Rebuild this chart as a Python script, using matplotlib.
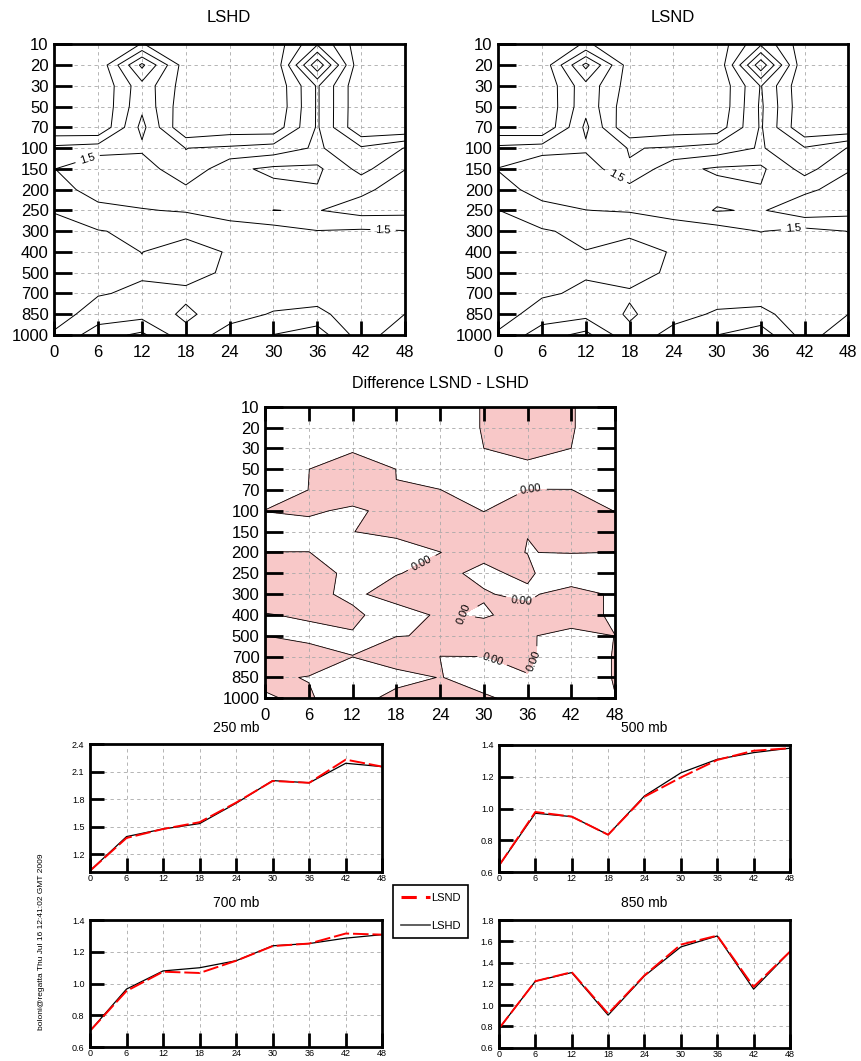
import numpy as np
import matplotlib
matplotlib.use('Agg')
import matplotlib.pyplot as plt
from matplotlib.lines import Line2D

plt.rcParams['font.family'] = ['Liberation Sans', 'DejaVu Sans']

W, H = 862, 1061

hours = [0, 6, 12, 18, 24, 30, 36, 42, 48]
pressure_labels = ['10', '20', '30', '50', '70', '100', '150', '200', '250',
                   '300', '400', '500', '700', '850', '1000']

# ---- single level curves ----
lshd_250 = [1.02, 1.393, 1.476, 1.535, 1.757, 2.004, 1.98, 2.193, 2.156]
lsnd_250 = [1.02, 1.378, 1.476, 1.55, 1.764, 2.0, 1.98, 2.233, 2.156]
lshd_500 = [0.642, 0.971, 0.95, 0.836, 1.08, 1.225, 1.31, 1.352, 1.38]
lsnd_500 = [0.642, 0.979, 0.95, 0.836, 1.075, 1.196, 1.306, 1.364, 1.38]
lshd_700 = [0.703, 0.966, 1.08, 1.1, 1.144, 1.238, 1.252, 1.286, 1.308]
lsnd_700 = [0.703, 0.954, 1.075, 1.067, 1.144, 1.236, 1.252, 1.315, 1.308]
lshd_850 = [0.78, 1.225, 1.306, 0.906, 1.275, 1.547, 1.65, 1.15, 1.503]
lsnd_850 = [0.78, 1.225, 1.31, 0.92, 1.28, 1.569, 1.653, 1.172, 1.503]

# ---- LSHD cross section, one row per pressure level ----
lshd_10 = [0.15, 0.10, 0.52, 0.20, 0.15, 0.167, 1.45, 0.167, 0.20]
lshd_20 = [0.05, 0.084, 2.12, 0.20, 0.10, 0.02, 2.90, 0.02, 0.10]
lshd_30 = [0.05, 0.022, 1.325, 0.242, 0.10, 0.05, 1.56, 0.05, 0.10]
lshd_50 = [0.05, 0.02, 1.40, 0.13, 0.10, 0.02, 1.56, 0.05, 0.05]
lshd_70 = [0.064, 0.02, 1.65, 0.01, 0.1875, 0.167, 1.56, 0.031, 0.0]
lshd_100 = [1.128, 1.25, 1.40, 0.995, 1.08, 1.208, 1.58, 1.073, 1.52]
lshd_150 = [1.49, 1.95, 1.80, 1.06, 1.886, 2.10, 2.10, 1.334, 1.99]
lshd_200 = [1.34, 1.66, 1.716, 1.63, 1.83, 1.878, 1.963, 1.905, 2.205]
lshd_300 = [0.877, 0.975, 1.10, 1.141, 1.24, 1.29, 1.485, 1.43, 1.48]
lshd_400 = [0.70, 0.85, 1.0056, 0.76, 1.05, 1.15, 1.25, 1.30, 1.35]
lshd_1000 = [1.07, 1.775, 2.114, 1.141, 1.754, 2.01, 2.275, 1.24, 1.84]

# ---- LSND - LSHD difference, one row per pressure level ----
diff_rows = [
    [0.03, 0.03, 0.03, 0.03, 0.03, -0.003, -0.03, -0.003, 0.03],
    [0.03, 0.03, 0.03, 0.03, 0.03, -0.003, -0.03, -0.003, 0.03],
    [0.03, 0.03, 0.01, 0.03, 0.03, 0.0001, -0.03, 0.0001, 0.03],
    [0.03, 0.0005, -0.04, 0.0005, 0.03, 0.03, 0.0236, 0.03, 0.03],
    [0.03, -0.0005, -0.04, -0.0005, -0.001, 0.03, -0.001, -0.001, 0.03],
    [-0.0013, -0.01, 0.012, -0.021, -0.03, 0.0013, -0.03, -0.03, 0.0013],
    [0.03, 0.026, 0.0018, -0.03, -0.03, -0.03, -0.001, -0.03, -0.03],
    [-0.001, -0.001, 0.03, 0.064, 0.001, -0.03, 0.002, -0.006, 0.0013],
    [-0.03, -0.03, 0.017, 0.0046, -0.03, 0.028, -0.03, 0.14, 0.03],
    [-0.03, -0.0256, 0.02, -0.042, -0.03, -0.01, 0.03, -0.079, 0.028],
    [0.003, -0.0072, -0.0185, 0.047, -0.014, 0.014, -0.049, -0.032, 0.0115],
    [-0.0002, 0.0169, 0.0072, 0.002, -0.0049, -0.0735, -0.005, 0.018, -0.0005],
    [-0.03, -0.03, -0.0005, -0.0495, 0.0001, 0.0005, -0.008, 0.03, -0.0027],
    [-0.0077, 0.0023, 0.03, 0.033, -0.003, 0.033, 0.002, 0.03, -0.0027],
    [0.0036, -0.0069, 0.041, -0.0305, -0.03, -0.0104, 0.0243, 0.03, 0.001],
]

lshd = np.array([lshd_10, lshd_20, lshd_30, lshd_50, lshd_70, lshd_100,
                 lshd_150, lshd_200, lshd_250, lshd_300, lshd_400,
                 lshd_500, lshd_700, lshd_850, lshd_1000])
diff = np.array(diff_rows)
lsnd = lshd + diff

T, J = np.meshgrid(hours, np.arange(len(pressure_labels)))


def px(x0, y0, x1, y1):
    return [x0 / W, 1 - y1 / H, (x1 - x0) / W, (y1 - y0) / H]


def frame(ax, lab_size, xpad, ylen):
    ax.grid(True, color='#a8a8a8', ls=(0, (4, 4)), lw=0.6)
    ax.tick_params(direction='in', width=2, labelsize=lab_size)
    ax.tick_params(axis='x', length=10, pad=xpad)
    ax.tick_params(axis='y', length=ylen, pad=4)
    for s in ax.spines.values():
        s.set_linewidth(2)


def section_axes(rect):
    ax = fig.add_axes(rect)
    ax.set_xlim(0, 48)
    ax.set_ylim(14, 0)
    ax.set_xticks(hours)
    ax.set_yticks(range(len(pressure_labels)))
    ax.set_yticklabels(pressure_labels)
    frame(ax, 12, 7, 13)
    return ax


def section(ax, z, label_at):
    # every level but 1.5, then 1.5 alone so it can carry the labels
    ax.contour(T, J, z, levels=[0.5, 1.0, 2.0, 2.5, 3.0], colors='k',
               linewidths=0.7)
    cs = ax.contour(T, J, z, levels=[1.5], colors='k', linewidths=0.7)
    ax.clabel(cs, manual=label_at, fmt='%.1f', fontsize=8)


fig = plt.figure(figsize=(W / 100, H / 100), dpi=100)

# top cross sections
ax1 = section_axes(px(54.3, 44.3, 405, 335))
section(ax1, lshd, [(4.5, 5.45), (45, 8.93)])
fig.text(229 / W, 1 - 18 / H, 'LSHD', ha='center', va='center', fontsize=12)

ax2 = section_axes(px(498.3, 44.3, 848.3, 335))
section(ax2, lsnd, [(16, 6.45), (40.5, 8.93)])
fig.text(673 / W, 1 - 18 / H, 'LSND', ha='center', va='center', fontsize=12)

# difference
ax3 = section_axes(px(265, 406.7, 615, 698.3))
ax3.tick_params(top=True, right=True)
ax3.contourf(T, J, diff, levels=[-1, 0], colors=['#f8c8c8'])
cs3 = ax3.contour(T, J, diff, levels=[0], colors='k', linewidths=0.6)
ax3.clabel(cs3, manual=[(36.5, 4.0), (21.5, 7.5), (27.2, 9.9), (35.0, 9.5),
                        (31.0, 12.3), (36.3, 12.1)], fmt='%.2f', fontsize=8)
fig.text(440 / W, 1 - 383 / H, 'Difference LSND - LSHD', ha='center',
         va='center', fontsize=11.5)

# single level panels
panels = [
    ('250 mb', lshd_250, lsnd_250, px(90, 744.3, 382.3, 871.7),
     (1.01, 2.4), [1.2, 1.5, 1.8, 2.1, 2.4], (236, 728)),
    ('500 mb', lshd_500, lsnd_500, px(499, 745, 790, 872.3),
     (0.6, 1.4), [0.6, 0.8, 1.0, 1.2, 1.4], (644, 728)),
    ('700 mb', lshd_700, lsnd_700, px(90, 920, 382.3, 1047.3),
     (0.6, 1.4), [0.6, 0.8, 1.0, 1.2, 1.4], (236, 903)),
    ('850 mb', lshd_850, lsnd_850, px(499, 920, 790, 1047.7),
     (0.6, 1.8), [0.6, 0.8, 1.0, 1.2, 1.4, 1.6, 1.8], (644, 903)),
]
for title, black, red, rect, ylim, yt, tpos in panels:
    ax = fig.add_axes(rect)
    ax.plot(hours, black, color='k', lw=0.9)
    ax.plot(hours, red, color='red', lw=1.4, ls=(0, (8, 2)))
    ax.set_xlim(0, 48)
    ax.set_ylim(*ylim)
    ax.set_xticks(hours)
    ax.set_yticks(yt)
    ax.set_yticklabels(['%.1f' % v for v in yt])
    frame(ax, 6.5, 1.5, 10)
    fig.text(tpos[0] / W, 1 - tpos[1] / H, title, ha='center', va='center',
             fontsize=10)

handles = [Line2D([], [], color='red', lw=2.2, ls=(0, (5, 3))),
           Line2D([], [], color='#444444', lw=1.2)]
leg = fig.legend(handles, ['LSND', 'LSHD'], loc='upper left',
                 bbox_to_anchor=(393 / W, 1 - 885 / H), fancybox=False,
                 edgecolor='k', framealpha=1, fontsize=8, handlelength=2.6,
                 handletextpad=0.1, labelspacing=1.6, borderpad=0.7,
                 borderaxespad=0)
leg.get_frame().set_linewidth(1.2)

fig.text(42 / W, 1 - 942 / H, 'boloni@regatta Thu Jul 16 12:41:02 GMT 2009',
         rotation=90, ha='center', va='center', fontsize=6)

fig.savefig('out.png', dpi=100)
